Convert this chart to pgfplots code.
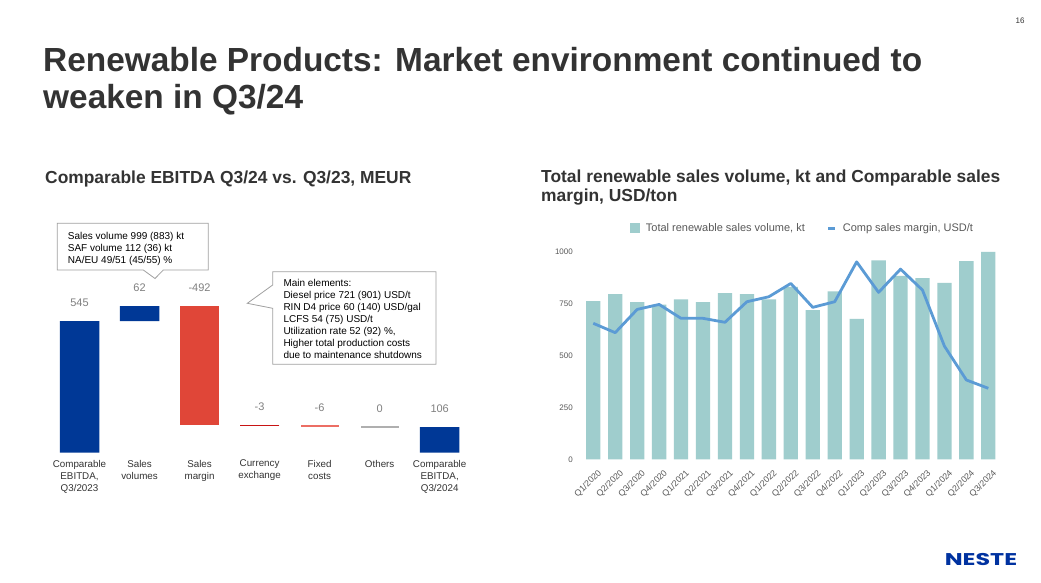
\documentclass[border=0pt]{standalone}
\usepackage{pgfplots}
\pgfplotsset{compat=1.18}
\usepackage{pgfplotstable}
\usepackage{fontspec}
\setmainfont{Liberation Sans}
\newfontfamily\logofont{Poppins}

\definecolor{nblue}{RGB}{0,56,150}
\definecolor{nred}{RGB}{224,70,56}
\definecolor{ndred}{RGB}{200,20,20}
\definecolor{nlred}{RGB}{236,110,100}
\definecolor{ngray}{RGB}{128,128,128}
\definecolor{lgray}{RGB}{175,175,175}
\definecolor{titlec}{RGB}{51,51,51}
\definecolor{barteal}{RGB}{159,205,205}
\definecolor{lineblue}{RGB}{91,155,213}
\definecolor{tickgray}{RGB}{89,89,89}
\definecolor{boxgray}{RGB}{160,160,160}
\definecolor{logoblue}{RGB}{0,50,160}

% Waterfall: invisible base + visible segments
\pgfplotstableread{
x base blue red
0 0   545 0
1 545 62  0
2 115 0   492
3 112 0   0
4 106 0   0
5 106 0   0
6 0   106 0
}\wf

\pgfplotstableread{
x top label
0 545 545
1 607 62
2 607 -492
3 115 -3
4 112 -6
5 106 0
6 106 106
}\wflab

\pgfplotstableread{
q vol margin
0  762 655
1  796 610
2  757 722
3  745 746
4  770 679
5  757 679
6  801 660
7  796 759
8  770 783
9  830 847
10 719 732
11 809 759
12 677 951
13 958 804
14 883 916
15 873 815
16 850 545
17 955 382
18 999 342
}\rp

\begin{document}
\begin{tikzpicture}
\path[use as bounding box, fill=white] (0,0) rectangle (1041pt,-583pt);

% Titles
\node[anchor=base west, inner sep=0pt, text=titlec, font=\fontsize{33.4}{36}\selectfont\bfseries] at (43pt,-71.7pt) {Renewable Products: Market environment continued to};
\node[anchor=base west, inner sep=0pt, text=titlec, font=\fontsize{33.4}{36}\selectfont\bfseries] at (43pt,-108.3pt) {weaken in Q3/24};
\node[anchor=base west, inner sep=0pt, text=titlec, font=\fontsize{17.4}{19}\selectfont\bfseries] at (45pt,-183.3pt) {Comparable EBITDA Q3/24 vs. Q3/23, MEUR};
\node[anchor=base west, inner sep=0pt, text=titlec, font=\fontsize{17.4}{19}\selectfont\bfseries] at (541pt,-182.7pt) {Total renewable sales volume, kt and Comparable sales};
\node[anchor=base west, inner sep=0pt, text=titlec, font=\fontsize{17.4}{19}\selectfont\bfseries] at (541pt,-201.7pt) {margin, USD/ton};
\node[inner sep=0pt, text=titlec, font=\fontsize{8}{9}\selectfont] at (1020pt,-20.7pt) {16};

% ---------------- Left: waterfall ----------------
\begin{axis}[at={(49.5pt,-452.7pt)}, anchor=south west, scale only axis,
  width=420.2pt, height=157pt, xmin=-0.5, xmax=6.5, ymin=0, ymax=650,
  ybar stacked, bar width=39.5pt,
  axis line style={draw=none}, ymajorticks=false, major tick length=0pt,
  xtick={0,...,6},
  xticklabels={{Comparable\\EBITDA,\\Q3/2023},{Sales\\volumes},{Sales\\margin},{Currency\\exchange},{Fixed\\costs},{Others},{Comparable\\EBITDA,\\Q3/2024}},
  xticklabel style={align=center, font=\fontsize{9.8}{12}\selectfont, text=titlec, inner sep=0pt, anchor=north, yshift=-7pt},
  clip=false]
\addplot[draw=none, fill=none] table[x=x,y=base]{\wf};
\addplot[draw=none, fill=nblue] table[x=x,y=blue]{\wf};
\addplot[draw=none, fill=nred] table[x=x,y=red]{\wf};
\end{axis}

\begin{axis}[at={(49.5pt,-452.7pt)}, anchor=south west, scale only axis,
  width=420.2pt, height=157pt, xmin=-0.5, xmax=6.5, ymin=0, ymax=650,
  hide axis, clip=false]
\addplot[only marks, mark=-, mark size=19.75pt, mark options={draw=ndred, line width=1.3pt}] coordinates {(3,113.5)};
\addplot[only marks, mark=-, mark size=19pt, mark options={draw=nlred, line width=2pt}] coordinates {(4,109)};
\addplot[only marks, mark=-, mark size=19pt, mark options={draw=lgray, line width=1.3pt}] coordinates {(5,106)};
\addplot[draw=none, mark=none, nodes near coords, point meta=explicit symbolic,
  nodes near coords style={anchor=center, yshift=18pt, font=\fontsize{11}{12}\selectfont, text=ngray, inner sep=0pt}]
  table[x=x, y=top, meta=label]{\wflab};
\end{axis}

% Callout boxes
\draw[boxgray, fill=white, line width=0.8pt, line join=miter]
  (57.3pt,-223.3pt) -- (208.3pt,-223.3pt) -- (208.3pt,-270pt) -- (163.3pt,-270pt)
  -- (155pt,-278.5pt) -- (143.3pt,-270pt) -- (57.3pt,-270pt) -- cycle;
\begin{scope}[every node/.style={anchor=base west, inner sep=0pt, text=black, font=\fontsize{10}{12}\selectfont}]
\node at (67.7pt,-239.3pt) {Sales volume 999 (883) kt};
\node at (67.7pt,-251.3pt) {SAF volume 112 (36) kt};
\node at (67.7pt,-263.3pt) {NA/EU 49/51 (45/55) \%};
\end{scope}

\draw[boxgray, fill=white, line width=0.8pt, line join=miter]
  (272.7pt,-271.7pt) -- (436pt,-271.7pt) -- (436pt,-364.3pt) -- (272.7pt,-364.3pt)
  -- (272.7pt,-308.3pt) -- (247.3pt,-303.3pt) -- (272.7pt,-285pt) -- cycle;
\begin{scope}[every node/.style={anchor=base west, inner sep=0pt, text=black, font=\fontsize{10}{12}\selectfont}]
\node at (283.3pt,-286.8pt) {Main elements:};
\node at (283.3pt,-298.8pt) {Diesel price 721 (901) USD/t};
\node at (283.3pt,-310.8pt) {RIN D4 price 60 (140) USD/gal};
\node at (283.3pt,-322.8pt) {LCFS 54 (75) USD/t};
\node at (283.3pt,-334.8pt) {Utilization rate 52 (92) \%,};
\node at (283.3pt,-346.8pt) {Higher total production costs};
\node at (283.3pt,-358.8pt) {due to maintenance shutdowns};
\end{scope}

% ---------------- Right: volumes and margin ----------------
\begin{axis}[at={(582.3pt,-459.3pt)}, anchor=south west, scale only axis,
  width=417pt, height=207.6pt, xmin=-0.5, xmax=18.5, ymin=0, ymax=1000,
  ytick={0,250,500,750,1000}, xtick={0,...,18},
  xticklabels={Q1/2020,Q2/2020,Q3/2020,Q4/2020,Q1/2021,Q2/2021,Q3/2021,Q4/2021,Q1/2022,Q2/2022,Q3/2022,Q4/2022,Q1/2023,Q2/2023,Q3/2023,Q4/2023,Q1/2024,Q2/2024,Q3/2024},
  axis line style={draw=none}, major tick length=0pt,
  /pgf/number format/assume math mode=true, /pgf/number format/1000 sep={},
  yticklabel style={font=\fontsize{8}{9}\selectfont, text=tickgray, inner sep=0pt, anchor=east, xshift=-9.3pt},
  xticklabel style={font=\fontsize{8.8}{9}\selectfont, text=tickgray, inner sep=0pt, xshift=4pt, yshift=-9.5pt, rotate=45, anchor=north east},
  legend style={at={(0.528,1.114)}, anchor=center, draw=none, fill=none,
    font=\fontsize{11}{12}\selectfont, text=tickgray, inner sep=0pt,
    /tikz/every odd column/.append style={column sep=4pt},
    /tikz/every even column/.append style={column sep=20pt}},
  legend columns=2,
  clip=false]
\addplot[ybar, bar width=14.3pt, bar shift=0pt, fill=barteal, draw=none,
  legend image code/.code={\fill[barteal] (0pt,-5pt) rectangle (10pt,5pt);}]
  table[x=q,y=vol]{\rp};
\addlegendentry{Total renewable sales volume, kt}
\addplot[lineblue, line width=2.8pt, mark=none, line join=round,
  legend image code/.code={\draw[lineblue, line width=3pt] (0pt,0pt) -- (7pt,0pt);}]
  table[x=q,y=margin]{\rp};
\addlegendentry{Comp sales margin, USD/t}
\end{axis}

% Logo
\node[inner sep=0pt, text=logoblue, font=\logofont\bfseries\fontsize{17}{18}\selectfont, xscale=1.4] at (981pt,-560pt) {NESTE};

\end{tikzpicture}
\end{document}
